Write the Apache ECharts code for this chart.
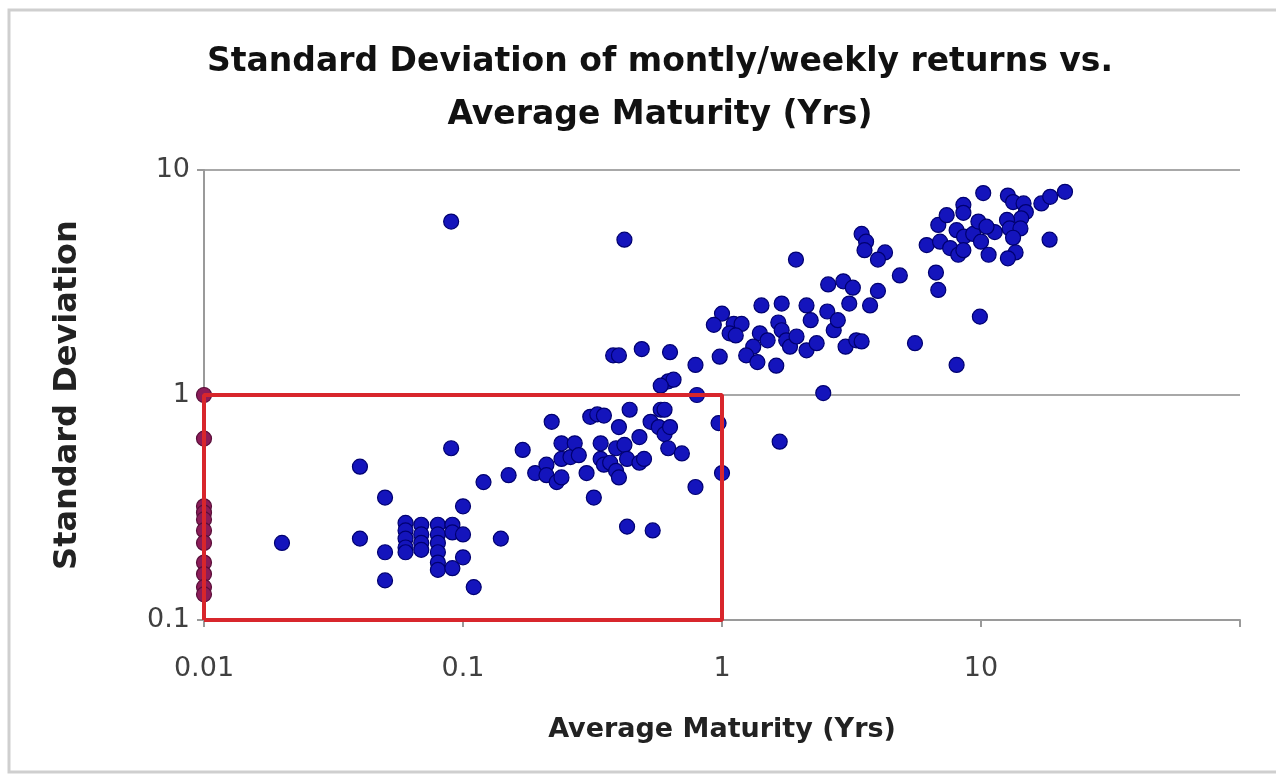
<!DOCTYPE html>
<html>
<head>
<meta charset="utf-8">
<script src="https://cdn.jsdelivr.net/npm/echarts@6/dist/echarts.min.js"></script>
<style>
html, body { margin: 0; padding: 0; background: #fff; }
#main { width: 1276px; height: 775px; }
</style>
</head>
<body>
<div id="main"></div>
<script>
// maturity (yrs) vs std dev
var maturity = [
	0.02, 0.04, 0.04, 0.05, 0.05, 0.05,
	0.06, 0.06, 0.06, 0.06, 0.06,
	0.069, 0.069, 0.069, 0.069,
	0.08, 0.08, 0.08, 0.08, 0.08, 0.08,
	0.091, 0.091, 0.091,
	0.1, 0.1, 0.1, 0.11, 0.09, 0.09,
	0.12, 0.14, 0.15, 0.17, 0.19, 0.21, 0.21, 0.22, 0.23, 0.24, 0.24, 0.24, 0.26, 0.27, 0.28, 0.30, 0.31, 0.33, 0.35, 0.32,
	0.34, 0.34, 0.35, 0.37, 0.39, 0.42, 0.39, 0.40, 0.43, 0.48, 0.50, 0.40, 0.44, 0.48, 0.43, 0.54, 0.42,
	0.53, 0.57, 0.60, 0.63, 0.58, 0.60, 0.62, 0.70, 0.79, 0.80, 0.97, 1.0,
	0.38, 0.40, 0.49, 0.63, 0.79, 0.98, 0.62, 0.65, 0.58,
	1.0, 0.93, 1.11, 1.19, 1.07, 1.13,
	1.42, 1.70, 2.12, 3.1, 1.40, 1.32, 1.24, 1.37, 1.62, 1.65, 1.50, 1.70, 1.77, 1.83, 1.94, 2.12, 2.32, 2.2, 2.55, 2.7, 2.8, 2.57, 2.94, 3.2, 3.0, 3.3, 1.93, 2.46, 1.67,
	3.46, 3.6, 3.55, 4.26, 4.0, 4.86, 4.0, 3.73, 3.46, 5.56, 8.05, 9.9, 6.7, 6.84,
	6.17, 6.95, 7.6, 8.17, 6.84, 7.37, 8.55, 8.55, 8.05, 8.6, 9.33, 9.77, 10.2, 10.0, 8.55,
	12.7, 13.3, 14.6, 14.9, 14.3, 12.6, 12.9, 14.2, 13.3, 13.6, 12.7, 10.7, 11.3, 10.5, 17.1, 18.5, 21.1, 18.4
];
var stdDev = [
	0.22, 0.48, 0.23, 0.35, 0.20, 0.15,
	0.27, 0.25, 0.23, 0.21, 0.20,
	0.265, 0.24, 0.22, 0.205,
	0.265, 0.24, 0.22, 0.20, 0.18, 0.167,
	0.265, 0.245, 0.17,
	0.24, 0.19, 0.32, 0.14, 0.58, 5.9,
	0.41, 0.23, 0.44, 0.57, 0.45, 0.49, 0.44, 0.76, 0.41, 0.43, 0.61, 0.52, 0.53, 0.61, 0.54, 0.45, 0.80, 0.82, 0.81, 0.35,
	0.61, 0.52, 0.49, 0.50, 0.58, 0.60, 0.46, 0.43, 0.52, 0.50, 0.52, 0.72, 0.86, 0.65, 0.26, 0.25, 4.9,
	0.76, 0.72, 0.67, 0.72, 0.86, 0.86, 0.58, 0.55, 0.39, 1.0, 0.75, 0.45,
	1.5, 1.5, 1.6, 1.55, 1.36, 1.48, 1.15, 1.17, 1.1,
	2.3, 2.05, 2.07, 2.07, 1.88, 1.84,
	2.5, 2.55, 2.5, 2.55, 1.88, 1.64, 1.5, 1.4, 1.35, 2.1, 1.75, 1.94, 1.75, 1.64, 1.82, 1.58, 1.70, 2.15, 2.35, 1.94, 2.15, 3.1, 3.2, 3.0, 1.64, 1.75, 4.0, 1.02, 0.62,
	5.2, 4.8, 4.4, 4.3, 4.0, 3.4, 2.9, 2.5, 1.73, 1.70, 1.36, 2.23, 3.5, 2.93,
	4.64, 4.8, 4.5, 4.2, 5.7, 6.3, 7.0, 6.45, 5.4, 5.06, 5.2, 5.9, 7.9, 4.8, 4.4,
	7.7, 7.2, 7.1, 6.5, 6.1, 6.0, 5.5, 5.5, 5.0, 4.3, 4.05, 4.2, 5.3, 5.6, 7.1, 7.6, 8.0, 4.9
];
// points sitting on the 0.01 edge
var edgeX = 0.01;
var edgeY = [1.0, 0.64, 0.32, 0.30, 0.28, 0.25, 0.22, 0.18, 0.16, 0.14, 0.13];

// highlighted box corners
var boxX = [0.01, 0.01, 1, 1, 0.01];
var boxY = [0.1, 1, 1, 0.1, 0.1];

var xTicks = [0.01, 0.1, 1, 10];

var pts = [];
for (var i = 0; i < maturity.length; i++) {
	pts.push([maturity[i], stdDev[i]]);
}
var edgePts = [];
for (var j = 0; j < edgeY.length; j++) {
	edgePts.push([edgeX, edgeY[j]]);
}
var boxPts = [];
for (var k = 0; k < boxX.length; k++) {
	boxPts.push([boxX[k], boxY[k]]);
}

function fmt(v) {
	var s = +Number(v).toPrecision(3);
	for (var i = 0; i < xTicks.length; i++) {
		if (Math.abs(s - xTicks[i]) < xTicks[i] * 0.01) return String(xTicks[i]);
	}
	return '';
}

var myChart = echarts.init(document.getElementById("main"));
var font = 'DejaVu Sans';
var option = {
	backgroundColor: '#fff',
	animation: false,
	title: {
		text: 'Standard Deviation of montly/weekly returns vs.\nAverage Maturity (Yrs)',
		left: 655,
		top: 31,
		textAlign: 'center',
		textStyle: {
			fontFamily: font,
			fontWeight: 'bold',
			fontSize: 33,
			lineHeight: 53,
			color: '#111'
		}
	},
	graphic: [{
		type: 'rect',
		shape: { x: 9, y: 10, width: 1290, height: 762 },
		style: { fill: 'none', stroke: '#cfcfcf', lineWidth: 3 },
		silent: true
	}],
	grid: {
		left: 204,
		right: 36,
		top: 170,
		bottom: 155
	},
	xAxis: {
		type: 'log',
		logBase: 10,
		min: 0.01,
		max: 100,
		name: 'Average Maturity (Yrs)',
		nameLocation: 'middle',
		nameGap: 96,
		nameTextStyle: { fontFamily: font, fontWeight: 'bold', fontSize: 27, color: '#222' },
		axisLine: { lineStyle: { color: '#9a9a9a', width: 2 } },
		axisTick: { show: true, length: 7, lineStyle: { color: '#9a9a9a', width: 2 } },
		axisLabel: {
			margin: 35,
			fontFamily: font,
			fontSize: 27,
			color: '#404040',
			formatter: fmt
		},
		minorTick: { show: false },
		splitLine: { show: false }
	},
	yAxis: {
		type: 'log',
		logBase: 10,
		min: 0.1,
		max: 10,
		name: 'Standard Deviation',
		nameLocation: 'middle',
		nameGap: 120,
		nameRotate: 90,
		nameTextStyle: { fontFamily: font, fontWeight: 'bold', fontSize: 32, color: '#222' },
		axisLine: { show: true, lineStyle: { color: '#9a9a9a', width: 2 } },
		axisTick: { show: true, length: 7, lineStyle: { color: '#9a9a9a', width: 2 } },
		axisLabel: {
			margin: 14,
			fontFamily: font,
			fontSize: 27,
			color: '#404040',
			formatter: function (v) { return String(+Number(v).toPrecision(3)); }
		},
		splitLine: { show: true, lineStyle: { color: '#a8a8a8', width: 2 } }
	},
	series: [{
		name: 'funds',
		type: 'scatter',
		symbol: 'circle',
		symbolSize: 15,
		itemStyle: { color: '#1414bc', borderColor: '#000070', borderWidth: 1.2, opacity: 1 },
		data: pts,
		z: 3
	}, {
		name: 'edge',
		type: 'scatter',
		symbol: 'circle',
		symbolSize: 15,
		itemStyle: { color: '#8c1c58', borderColor: '#5a0f3a', borderWidth: 1.2, opacity: 1 },
		data: edgePts,
		z: 3
	}, {
		name: 'box',
		type: 'line',
		data: boxPts,
		showSymbol: false,
		symbol: 'none',
		lineStyle: { color: '#d8262c', width: 4 },
		z: 4,
		silent: true
	}]
};
myChart.setOption(option);
</script>
</body>
</html>
